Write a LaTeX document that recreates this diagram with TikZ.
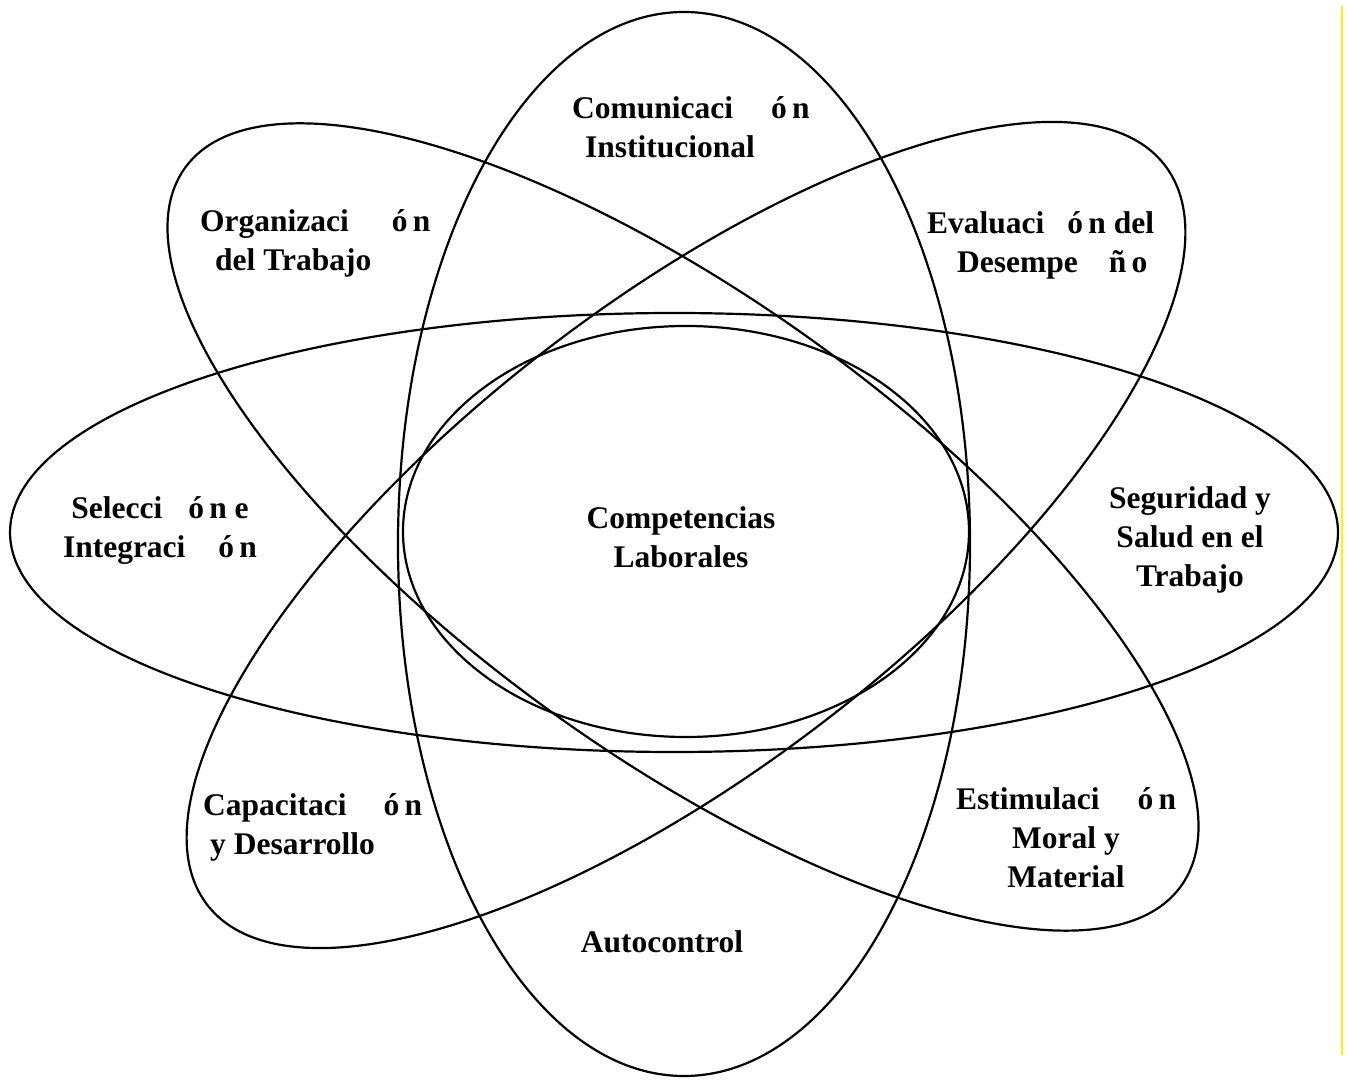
\documentclass[tikz,border=0pt]{standalone}
\usepackage{fontspec}
\setmainfont{Liberation Serif}
\tikzset{
  elipse/.style={line width=2.2pt},
  etiqueta/.style={font=\fontsize{31.5}{39}\selectfont\bfseries, inner sep=0pt},
}
\newcommand{\hueco}[1]{\hspace{#1pt}}

\begin{document}
\begin{tikzpicture}[x=1pt,y=1pt]
\useasboundingbox (0,0) rectangle (1348,1079);

% Elipses
\draw[elipse] (684,535) ellipse [x radius=286, y radius=532]; % vertical
\draw[elipse] (674,546.5) ellipse [x radius=664, y radius=219.5]; % horizontal
\draw[elipse] (686,547.5) ellipse [x radius=283, y radius=205.5]; % centro
\draw[elipse, rotate around={-35.8:(683,552)}] (683,552) ellipse [x radius=614, y radius=227];
\draw[elipse, rotate around={37.7:(686,544)}] (686,544) ellipse [x radius=605, y radius=232];

% Textos
\node[etiqueta, align=center] (competencias) at (681,542) {Competencias\\Laborales};
\node[etiqueta, align=left, anchor=west] (comunicacion) at (572,952) {Comunicaci\hueco{38}ó\,n\\\hueco{13}Institucional};
\node[etiqueta, align=left, anchor=west] (organizacion) at (200,836) {Organizaci\hueco{43}ó\,n\\\hueco{15}del Trabajo};
\node[etiqueta, align=left, anchor=west] (evaluacion) at (927,834) {Evaluaci\hueco{23}ó\,n del\\\hueco{30}Desempe\hueco{31}ñ\,o};
\node[etiqueta, align=center] (seleccion) at (160,548) {Selecci\hueco{26}ó\,n e\\Integraci\hueco{33}ó\,n};
\node[etiqueta, align=center] (seguridad) at (1190,539) {Seguridad y\\Salud en el\\Trabajo};
\node[etiqueta, align=left, anchor=west] (capacitacion) at (203,252) {Capacitaci\hueco{37}ó\,n\\\hueco{7}y Desarrollo};
\node[etiqueta, align=center] (estimulacion) at (1066,241) {Estimulaci\hueco{38}ó\,n\\Moral y\\Material};
\node[etiqueta] (autocontrol) at (662,137) {Autocontrol};

% Linea amarilla
\draw[yellow, line width=2.5pt] (1342,1073) -- (1342,24);

\end{tikzpicture}
\end{document}
